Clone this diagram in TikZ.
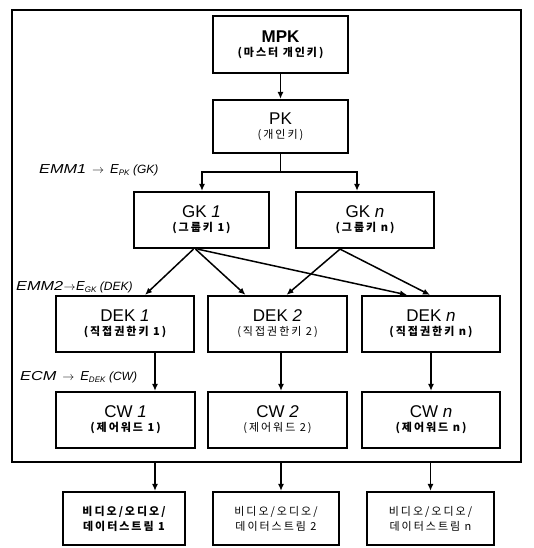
\documentclass[tikz,border=0pt]{standalone}
\usepackage{fontspec}
\usepackage{graphicx}
\setmainfont{Liberation Sans}
\newfontfamily\kr[LetterSpace=18]{Noto Sans CJK KR}
\usetikzlibrary{arrows.meta}
\newcommand{\ttl}[1]{{\fontsize{17}{19}\selectfont #1}}
\newcommand{\sub}[1]{{\kr\fontsize{11}{13}\selectfont #1}}
\newcommand{\subb}[1]{{\kr\bfseries\fontsize{11}{13}\selectfont #1}}
% #1 gap around the arrow, #2 message, #3 subscript key, #4 payload
\newcommand{\lbl}[4]{{\fontsize{13}{15}\selectfont\itshape \scalebox{1.25}[1]{#2}\hspace{#1}$\rightarrow$\hspace{#1}E\raisebox{-0.35ex}{\fontsize{8}{9}\selectfont #3}\ {\fontsize{12}{14}\selectfont(#4)}}}
\begin{document}
\begin{tikzpicture}[x=1pt,y=-1pt,
  box/.style={draw, line width=2.2pt, inner sep=0pt, align=center, minimum height=56pt},
  frame/.style={draw, line width=2.2pt, inner sep=0pt},
  arr/.style={line width=1.5pt, -{Latex[length=7pt,width=6pt]}},
  tag/.style={anchor=west, inner sep=0pt}]
\useasboundingbox (0,0) rectangle (533,548);

% outer frame
\node[frame, minimum width=509pt, minimum height=452pt] (frame) at (266.5,236) {};

% key hierarchy
\node[box, minimum width=135pt, minimum height=57pt] (MPK) at (280.5,44.5)
  {\ttl{\bfseries MPK}\\[2pt]\subb{(마스터 개인키)}};
\node[box, minimum width=135pt, minimum height=53pt] (PK) at (280.5,126.5)
  {\ttl{PK}\\[2pt]\sub{(개인키)}};
\node[box, minimum width=135pt] (GK1) at (201.5,220)
  {\ttl{GK \textit{1}}\\[2pt]\subb{(그룹키 1)}};
\node[box, minimum width=138pt] (GKn) at (365,220)
  {\ttl{GK \textit{n}}\\[2pt]\subb{(그룹키 n)}};
\node[box, minimum width=138pt] (DEK1) at (125,324)
  {\ttl{DEK \textit{1}}\\[2pt]\subb{(직접권한키 1)}};
\node[box, minimum width=139pt] (DEK2) at (277.5,324)
  {\ttl{DEK \textit{2}}\\[2pt]\sub{(직접권한키 2)}};
\node[box, minimum width=138pt] (DEKn) at (431,324)
  {\ttl{DEK \textit{n}}\\[2pt]\subb{(직접권한키 n)}};
\node[box, minimum width=139pt] (CW1) at (125.5,420)
  {\ttl{CW \textit{1}}\\[2pt]\subb{(제어워드 1)}};
\node[box, minimum width=139pt] (CW2) at (277.5,420)
  {\ttl{CW \textit{2}}\\[2pt]\sub{(제어워드 2)}};
\node[box, minimum width=138pt] (CWn) at (431,420)
  {\ttl{CW \textit{n}}\\[2pt]\subb{(제어워드 n)}};

% output streams
\node[box, minimum width=122pt, minimum height=53pt] (S1) at (124,518.5)
  {\subb{비디오/오디오/}\\[3pt]\subb{데이터스트림 1}};
\node[box, minimum width=126pt, minimum height=53pt] (S2) at (276,518.5)
  {\sub{비디오/오디오/}\\[3pt]\sub{데이터스트림 2}};
\node[box, minimum width=127pt, minimum height=53pt] (Sn) at (430.5,518.5)
  {\sub{비디오/오디오/}\\[3pt]\sub{데이터스트림 n}};

% labels
\node[tag] (L1) at (39,170) {\lbl{6pt}{EMM1}{PK}{GK}};
\node[tag] (L2) at (16,287) {\lbl{0.5pt}{EMM2}{GK}{DEK}};
\node[tag] (L3) at (20,377) {\lbl{6pt}{ECM}{DEK}{CW}};

% connectors
\draw[arr] (MPK) -- (PK);
\coordinate (br) at ([yshift=-18pt]PK.south);
\draw[line width=1.5pt] (PK.south) -- (br);
\draw[arr] (br) -| ([xshift=0.5pt]GK1.north);
\draw[arr] (br) -| ([xshift=-8pt]GKn.north);

\draw[arr] ([xshift=-8pt]GK1.south) -- ([xshift=20pt]DEK1.north);
\draw[arr] ([xshift=-6pt]GK1.south) -- ([xshift=-32pt]DEK2.north);
\draw[arr] ([xshift=-4pt]GK1.south) -- ([xshift=-24pt]DEKn.north);
\draw[arr] ([xshift=-25pt]GKn.south) -- ([xshift=9pt]DEK2.north);
\draw[arr] ([xshift=-25pt]GKn.south) -- ([xshift=-1pt]DEKn.north);

\draw[arr] ([xshift=30pt]DEK1.south) -- ([xshift=29.5pt]CW1.north);
\draw[arr] ([xshift=3.5pt]DEK2.south) -- ([xshift=3.5pt]CW2.north);
\draw[arr] (DEKn.south) -- (CWn.north);

% stream feeds leaving the frame
\coordinate (in1) at ([xshift=31pt]S1.north);
\coordinate (in2) at ([xshift=5pt]S2.north);
\coordinate (inn) at (Sn.north);
\draw[arr] (frame.south -| in1) -- (in1);
\draw[arr] (frame.south -| in2) -- (in2);
\draw[arr] (frame.south -| inn) -- (inn);
\end{tikzpicture}
\end{document}
